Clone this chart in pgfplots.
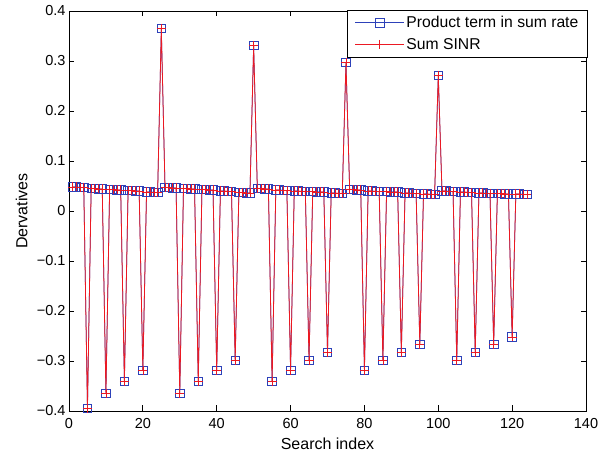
\documentclass[border=0pt]{standalone}
\usepackage{pgfplots}
\pgfplotsset{compat=1.18}
\usepackage{pgfplotstable}
\usepackage{fontspec}
\setmainfont{Liberation Sans}
\definecolor{mblue}{RGB}{45,65,185}
\definecolor{mred}{RGB}{235,25,35}
\pgfplotstableread{
x p
1 0.048
2 0.048
3 0.047
4 0.047
5 -0.395
6 0.045
7 0.045
8 0.044
9 0.044
10 -0.365
11 0.043
12 0.043
13 0.042
14 0.042
15 -0.341
16 0.041
17 0.041
18 0.040
19 0.040
20 -0.319
21 0.038
22 0.038
23 0.037
24 0.037
25 0.365
26 0.047
27 0.047
28 0.046
29 0.046
30 -0.365
31 0.045
32 0.045
33 0.044
34 0.044
35 -0.341
36 0.043
37 0.043
38 0.042
39 0.042
40 -0.319
41 0.040
42 0.040
43 0.039
44 0.039
45 -0.299
46 0.037
47 0.037
48 0.036
49 0.036
50 0.331
51 0.045
52 0.045
53 0.044
54 0.044
55 -0.341
56 0.042
57 0.042
58 0.041
59 0.041
60 -0.319
61 0.040
62 0.040
63 0.039
64 0.039
65 -0.299
66 0.039
67 0.038
68 0.038
69 0.038
70 -0.283
71 0.036
72 0.036
73 0.035
74 0.035
75 0.297
76 0.043
77 0.043
78 0.042
79 0.042
80 -0.319
81 0.040
82 0.040
83 0.039
84 0.039
85 -0.299
86 0.039
87 0.038
88 0.038
89 0.038
90 -0.283
91 0.036
92 0.036
93 0.035
94 0.035
95 -0.267
96 0.034
97 0.034
98 0.033
99 0.033
100 0.271
101 0.040
102 0.040
103 0.039
104 0.039
105 -0.299
106 0.038
107 0.038
108 0.037
109 0.037
110 -0.283
111 0.036
112 0.036
113 0.035
114 0.035
115 -0.267
116 0.035
117 0.035
118 0.034
119 0.034
120 -0.252
121 0.034
122 0.034
123 0.033
124 0.033
}\datatable
\begin{document}
\begin{tikzpicture}
\useasboundingbox (-69pt,-43pt) rectangle (539pt,411pt);
\begin{axis}[
  at={(0,0)}, anchor=south west,
  scale only axis,
  width=517pt, height=400pt,
  xmin=0, xmax=140, ymin=-0.4, ymax=0.4,
  xtick={0,20,...,140},
  ytick={-0.4,-0.3,-0.2,-0.1,0,0.1,0.2,0.3,0.4},
  yticklabels={−0.4,−0.3,−0.2,−0.1,0,0.1,0.2,0.3,0.4},
  /pgf/number format/assume math mode=true,
  ticklabel style={font=\fontsize{14.5}{17}\selectfont},
  xticklabel style={yshift=-4pt},
  xlabel={Search index},
  ylabel={Dervatives},
  xlabel style={at={(axis description cs:0.5,-0.0975)}, anchor=base, font=\fontsize{16}{19}\selectfont},
  ylabel style={at={(axis description cs:-0.0803,0.5)}, anchor=base, rotate=0, font=\fontsize{16}{19}\selectfont},
  axis line style={line width=0.8pt},
  major tick length=5.5pt,
  tick style={line width=0.8pt, black},
  legend style={at={(1.003,1.002)}, anchor=north east,
    font=\fontsize{15.7}{18}\selectfont, cells={anchor=west},
    inner xsep=7pt, inner ysep=4pt, row sep=5pt},
  legend image code/.code={\draw[mark repeat=2,mark phase=2,#1] plot coordinates {(0pt,0pt) (24.5pt,0pt) (49pt,0pt)};},
]
\addplot[mblue, line width=0.7pt, mark=square, mark size=4.3pt, mark options={line width=0.7pt}] table[x=x,y=p] {\datatable};
\addlegendentry{Product term in sum rate}
\addplot[mred, line width=0.8pt, mark=+, mark size=4.5pt, mark options={line width=0.7pt}] table[x=x,y=p] {\datatable};
\addlegendentry{Sum SINR}
\end{axis}
\end{tikzpicture}
\end{document}
